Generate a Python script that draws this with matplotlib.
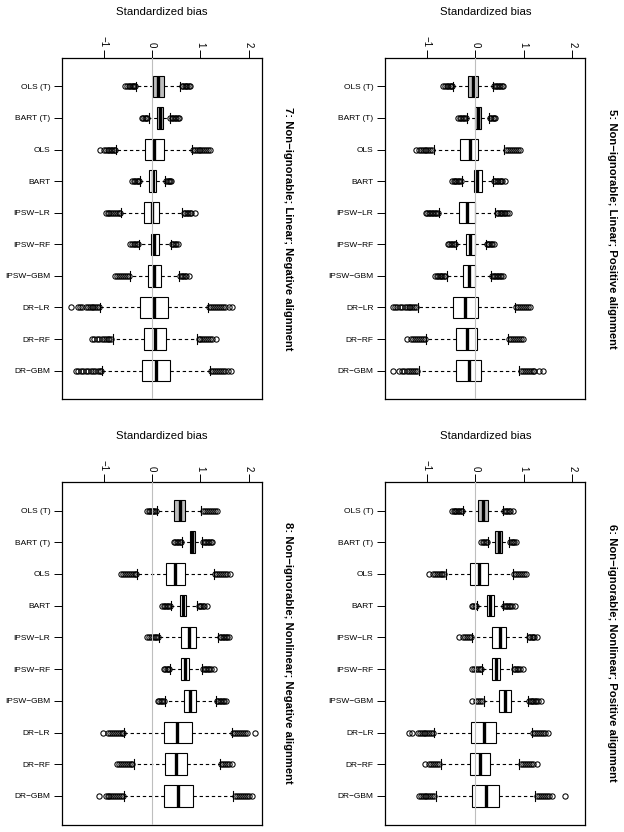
import matplotlib
matplotlib.use("Agg")
import matplotlib.pyplot as plt

plt.rcParams['font.family'] = ['Liberation Sans', 'DejaVu Sans']

methods = ["OLS (T)", "BART (T)", "OLS", "BART", "IPSW\u2212LR", "IPSW\u2212RF",
           "IPSW\u2212GBM", "DR\u2212LR", "DR\u2212RF", "DR\u2212GBM"]
xticks = [-1, 0, 1, 2]

# box stats per method: [whisker low, q1, median, q3, whisker high]
p5_box = [[-0.46, -0.16, -0.05, 0.06, 0.36], [-0.18, 0.00, 0.06, 0.12, 0.28],
          [-0.85, -0.32, -0.12, 0.06, 0.60], [-0.28, -0.03, 0.04, 0.14, 0.36],
          [-0.76, -0.33, -0.18, -0.01, 0.41], [-0.40, -0.19, -0.11, -0.01, 0.21],
          [-0.59, -0.26, -0.14, -0.01, 0.32], [-1.19, -0.47, -0.21, 0.05, 0.81],
          [-1.01, -0.39, -0.17, 0.03, 0.67], [-1.17, -0.41, -0.14, 0.12, 0.91]]
p5_lo = [[-0.66, -0.62, -0.59, -0.56, -0.53, -0.50, -0.48],
         [-0.35, -0.32, -0.29, -0.26, -0.23, -0.20],
         [-1.23, -1.17, -1.13, -1.09, -1.05, -1.01, -0.97, -0.93, -0.89],
         [-0.48, -0.45, -0.42, -0.39, -0.36, -0.33, -0.30],
         [-1.02, -0.99, -0.96, -0.93, -0.90, -0.87, -0.84, -0.81, -0.78],
         [-0.57, -0.54, -0.51, -0.48, -0.45, -0.42],
         [-0.83, -0.80, -0.77, -0.74, -0.71, -0.68, -0.65, -0.62],
         [-1.71, -1.66, -1.61, -1.56, -1.51, -1.46, -1.42, -1.38, -1.34, -1.30, -1.26, -1.22],
         [-1.42, -1.33, -1.29, -1.25, -1.21, -1.17, -1.13, -1.09, -1.05],
         [-1.70, -1.57, -1.52, -1.47, -1.42, -1.37, -1.32, -1.28, -1.24, -1.20]]
p5_hi = [[0.39, 0.42, 0.45, 0.48, 0.51, 0.54, 0.57],
         [0.30, 0.33, 0.36, 0.39, 0.41],
         [0.63, 0.67, 0.71, 0.75, 0.79, 0.83, 0.87, 0.92],
         [0.38, 0.41, 0.44, 0.47, 0.50, 0.53, 0.56, 0.62],
         [0.44, 0.47, 0.50, 0.53, 0.56, 0.59, 0.62, 0.65, 0.70],
         [0.23, 0.26, 0.29, 0.32, 0.35, 0.38],
         [0.35, 0.38, 0.41, 0.44, 0.47, 0.50, 0.53, 0.57],
         [0.84, 0.88, 0.92, 0.96, 1.00, 1.04, 1.08, 1.13],
         [0.70, 0.74, 0.78, 0.82, 0.86, 0.90, 0.94, 0.98],
         [0.94, 0.98, 1.02, 1.06, 1.10, 1.14, 1.18, 1.22, 1.32, 1.39]]

p6_box = [[-0.25, 0.06, 0.16, 0.27, 0.57], [0.26, 0.41, 0.48, 0.54, 0.70],
          [-0.61, -0.11, 0.08, 0.27, 0.77], [0.03, 0.23, 0.30, 0.38, 0.57],
          [-0.07, 0.34, 0.50, 0.63, 1.07], [0.14, 0.34, 0.43, 0.51, 0.76],
          [0.17, 0.48, 0.62, 0.74, 1.08], [-0.85, -0.09, 0.17, 0.43, 1.17],
          [-0.71, -0.11, 0.10, 0.31, 0.91], [-0.81, -0.06, 0.21, 0.48, 1.24]]
p6_lo = [[-0.48, -0.45, -0.42, -0.39, -0.36, -0.33, -0.30, -0.27],
         [0.12, 0.15, 0.18, 0.21, 0.24],
         [-0.95, -0.88, -0.84, -0.80, -0.76, -0.72, -0.68, -0.64],
         [-0.07, -0.04, -0.01, 0.01],
         [-0.33, -0.26, -0.22, -0.18, -0.14, -0.10],
         [-0.07, -0.03, 0.01, 0.05, 0.09, 0.12],
         [-0.07, 0.01, 0.05, 0.09, 0.13],
         [-1.37, -1.30, -1.19, -1.15, -1.11, -1.07, -1.03, -0.99, -0.95, -0.91, -0.88],
         [-1.03, -0.95, -0.91, -0.87, -0.83, -0.79, -0.75],
         [-1.17, -1.13, -1.09, -1.05, -1.01, -0.97, -0.93, -0.89, -0.85]]
p6_hi = [[0.60, 0.63, 0.66, 0.69, 0.72, 0.77],
         [0.72, 0.75, 0.78, 0.80, 0.83],
         [0.80, 0.84, 0.88, 0.92, 0.96, 1.00, 1.05],
         [0.60, 0.63, 0.66, 0.69, 0.72, 0.75, 0.81],
         [1.10, 1.13, 1.16, 1.19, 1.22, 1.27],
         [0.79, 0.82, 0.85, 0.88, 0.92, 0.98],
         [1.11, 1.14, 1.17, 1.20, 1.23, 1.26, 1.30, 1.36],
         [1.20, 1.24, 1.28, 1.32, 1.36, 1.40, 1.44, 1.50],
         [0.94, 0.98, 1.02, 1.06, 1.10, 1.14, 1.18, 1.27],
         [1.27, 1.31, 1.35, 1.39, 1.43, 1.47, 1.52, 1.59, 1.86]]

p7_box = [[-0.34, 0.01, 0.12, 0.24, 0.58], [-0.07, 0.10, 0.16, 0.22, 0.36],
          [-0.74, -0.15, 0.05, 0.24, 0.82], [-0.25, -0.07, 0.01, 0.08, 0.27],
          [-0.64, -0.17, -0.01, 0.15, 0.62], [-0.27, -0.02, 0.05, 0.15, 0.39],
          [-0.45, -0.08, 0.05, 0.19, 0.55], [-1.07, -0.24, 0.03, 0.32, 1.15],
          [-0.80, -0.16, 0.07, 0.28, 0.93], [-1.03, -0.21, 0.08, 0.36, 1.19]]
p7_lo = [[-0.55, -0.51, -0.48, -0.45, -0.42, -0.40, -0.38, -0.36],
         [-0.21, -0.18, -0.15, -0.12, -0.10],
         [-1.07, -1.00, -0.96, -0.92, -0.88, -0.85, -0.82, -0.79, -0.76],
         [-0.41, -0.38, -0.35, -0.32, -0.29, -0.27],
         [-0.96, -0.92, -0.88, -0.84, -0.80, -0.76, -0.72, -0.69, -0.66],
         [-0.45, -0.42, -0.38, -0.35, -0.32, -0.29],
         [-0.76, -0.72, -0.68, -0.64, -0.60, -0.56, -0.52, -0.48],
         [-1.67, -1.53, -1.49, -1.44, -1.37, -1.33, -1.29, -1.25, -1.21, -1.17, -1.13, -1.10],
         [-1.24, -1.19, -1.14, -1.09, -1.04, -1.00, -0.96, -0.92, -0.88, -0.84],
         [-1.58, -1.52, -1.47, -1.42, -1.37, -1.32, -1.27, -1.22, -1.17, -1.12, -1.08, -1.05]]
p7_hi = [[0.61, 0.64, 0.67, 0.70, 0.73, 0.76, 0.79],
         [0.38, 0.41, 0.44, 0.47, 0.50, 0.53, 0.55],
         [0.85, 0.88, 0.92, 0.96, 1.00, 1.04, 1.08, 1.12, 1.16, 1.20],
         [0.29, 0.32, 0.35, 0.37, 0.39],
         [0.65, 0.68, 0.72, 0.75, 0.78, 0.81, 0.89],
         [0.41, 0.44, 0.47, 0.50, 0.53],
         [0.58, 0.61, 0.64, 0.67, 0.70, 0.76],
         [1.18, 1.22, 1.26, 1.30, 1.34, 1.38, 1.42, 1.46, 1.50, 1.58, 1.65],
         [0.96, 1.00, 1.04, 1.08, 1.12, 1.16, 1.20, 1.24, 1.31],
         [1.22, 1.26, 1.30, 1.34, 1.38, 1.42, 1.46, 1.50, 1.57, 1.62]]

p8_box = [[0.10, 0.45, 0.57, 0.69, 1.02], [0.62, 0.78, 0.83, 0.89, 1.03],
          [-0.31, 0.29, 0.48, 0.69, 1.27], [0.39, 0.58, 0.64, 0.71, 0.93],
          [0.14, 0.60, 0.76, 0.91, 1.37], [0.36, 0.60, 0.67, 0.77, 1.03],
          [0.27, 0.65, 0.79, 0.91, 1.31], [-0.57, 0.25, 0.52, 0.82, 1.65],
          [-0.38, 0.26, 0.49, 0.73, 1.40], [-0.58, 0.25, 0.54, 0.84, 1.68]]
p8_lo = [[-0.10, -0.07, -0.04, -0.01, 0.02, 0.05, 0.08],
         [0.45, 0.48, 0.51, 0.54, 0.57, 0.60],
         [-0.64, -0.60, -0.56, -0.52, -0.48, -0.44, -0.40, -0.36, -0.33],
         [0.21, 0.24, 0.27, 0.30, 0.33, 0.36],
         [-0.10, -0.06, -0.02, 0.02, 0.06, 0.09, 0.12],
         [0.24, 0.27, 0.30, 0.33, 0.35],
         [0.12, 0.15, 0.18, 0.21, 0.24],
         [-1.01, -0.91, -0.87, -0.83, -0.79, -0.75, -0.71, -0.67, -0.63, -0.60],
         [-0.72, -0.68, -0.64, -0.60, -0.56, -0.52, -0.48, -0.44, -0.41],
         [-1.10, -0.96, -0.92, -0.88, -0.84, -0.80, -0.76, -0.72, -0.68, -0.64, -0.61]]
p8_hi = [[1.05, 1.09, 1.13, 1.17, 1.21, 1.25, 1.29, 1.34],
         [1.06, 1.09, 1.12, 1.15, 1.18, 1.21, 1.24],
         [1.30, 1.34, 1.38, 1.42, 1.46, 1.50, 1.54, 1.60],
         [0.96, 0.99, 1.02, 1.05, 1.08, 1.13],
         [1.40, 1.43, 1.46, 1.49, 1.52, 1.55, 1.58],
         [1.06, 1.09, 1.12, 1.15, 1.18, 1.22, 1.27],
         [1.34, 1.37, 1.40, 1.43, 1.46, 1.49, 1.53],
         [1.68, 1.72, 1.76, 1.80, 1.84, 1.88, 1.92, 1.95, 2.13],
         [1.43, 1.47, 1.51, 1.55, 1.59, 1.65],
         [1.71, 1.75, 1.79, 1.83, 1.87, 1.91, 1.95, 2.00, 2.06]]

titles = {5: "5: Non\u2212ignorable; Linear; Positive alignment",
          6: "6: Non\u2212ignorable; Nonlinear; Positive alignment",
          7: "7: Non\u2212ignorable; Linear; Negative alignment",
          8: "8: Non\u2212ignorable; Nonlinear; Negative alignment"}

W, H = 624, 832
fig = plt.figure(figsize=(W / 100, H / 100), dpi=100)


def draw_panel(rect, box, lo, hi, title):
    ax = fig.add_axes(rect)
    stats = []
    for i in range(len(methods)):
        wlo, q1, med, q3, whi = box[i]
        stats.append(dict(whislo=wlo, q1=q1, med=med, q3=q3, whishi=whi,
                          fliers=lo[i] + hi[i], label=methods[i]))
    pos = list(range(1, len(methods) + 1))
    res = ax.bxp(stats, positions=pos, orientation='horizontal', widths=0.68,
                 patch_artist=True, capwidths=0.3,
                 boxprops=dict(edgecolor='black', linewidth=0.8),
                 medianprops=dict(color='black', linewidth=2.4, solid_capstyle='butt'),
                 whiskerprops=dict(color='black', linewidth=0.8, linestyle=(0, (3, 2.5))),
                 capprops=dict(color='black', linewidth=0.8),
                 flierprops=dict(marker='o', markerfacecolor='none', markeredgecolor='black',
                                 markersize=3.8, markeredgewidth=0.75))
    for i, patch in enumerate(res['boxes']):
        patch.set_facecolor('#BEBEBE' if '(T)' in methods[i] else 'white')
    ax.axvline(0, color='#BEBEBE', linewidth=0.8, zorder=5)
    ax.set_xlim(-1.86, 2.27)
    ax.set_ylim(10.9, 0.1)
    ax.xaxis.tick_top()
    ax.set_xticks(xticks)
    ax.set_xticklabels([f"{t}".replace('-', '\u2212') for t in xticks], rotation=270,
                       fontsize=7)
    ax.tick_params(axis='x', length=5.5, width=0.7, pad=2.5)
    ax.set_yticks(pos)
    ax.set_yticklabels(methods, fontsize=6)
    ax.tick_params(axis='y', length=5.5, width=0.7, pad=3)
    for s in ax.spines.values():
        s.set_linewidth(0.9)
    ax.annotate("Standardized bias", xy=(0.5, 1), xycoords='axes fraction',
                xytext=(0, 33), textcoords='offset points', ha='center', va='center',
                fontsize=8.2)
    ax.annotate(title, xy=(1, 0.5), xycoords='axes fraction', xytext=(19, 0),
                textcoords='offset points', ha='center', va='center', rotation=270,
                fontsize=8.1, fontweight='bold')
    return ax


lx1, lx2, aw = 62 / W, 385.3 / W, 200 / W
top_b, top_h = 1 - 399 / H, 341 / H
bot_b, bot_h = 1 - 824.5 / H, 342.5 / H

draw_panel([lx1, top_b, aw, top_h], p7_box, p7_lo, p7_hi, titles[7])
draw_panel([lx2, top_b, aw, top_h], p5_box, p5_lo, p5_hi, titles[5])
draw_panel([lx1, bot_b, aw, bot_h], p8_box, p8_lo, p8_hi, titles[8])
draw_panel([lx2, bot_b, aw, bot_h], p6_box, p6_lo, p6_hi, titles[6])

fig.savefig("out.png", dpi=100)
